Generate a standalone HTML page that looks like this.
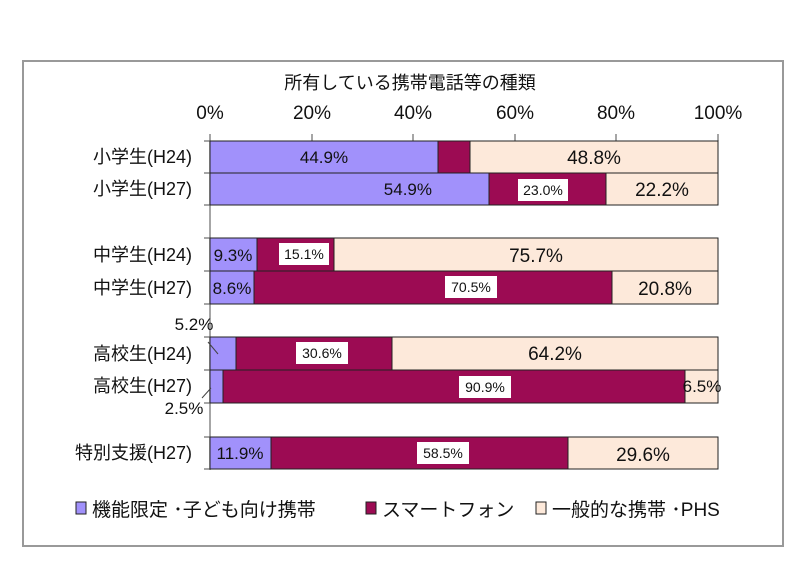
<!DOCTYPE html>
<html><head><meta charset="utf-8"><style>
body{margin:0;background:#fff;}
svg text{font-family:"Liberation Sans","Noto Sans CJK JP",sans-serif;}
</style></head><body>
<svg width="800" height="573" xmlns="http://www.w3.org/2000/svg">
<rect x="23" y="61" width="760" height="485" fill="#fff" stroke="#999" stroke-width="2"/>
<text x="410" y="89" font-size="18" text-anchor="middle" fill="#111">所有している携帯電話等の種類</text>
<g font-size="19" fill="#111" text-anchor="middle">
<text x="210" y="119">0%</text><text x="312" y="119">20%</text><text x="413" y="119">40%</text><text x="515" y="119">60%</text><text x="616" y="119">80%</text><text x="718" y="119">100%</text>
</g>
<g stroke="#888" stroke-width="1.5">
<line x1="210" y1="134" x2="210" y2="470"/>
<line x1="312" y1="134" x2="312" y2="141"/><line x1="413" y1="134" x2="413" y2="141"/><line x1="515" y1="134" x2="515" y2="141"/><line x1="616" y1="134" x2="616" y2="141"/><line x1="718" y1="134" x2="718" y2="141"/>
<line x1="204" y1="141" x2="210" y2="141"/><line x1="204" y1="173" x2="210" y2="173"/><line x1="204" y1="205" x2="210" y2="205"/><line x1="204" y1="238" x2="210" y2="238"/><line x1="204" y1="271" x2="210" y2="271"/><line x1="204" y1="304" x2="210" y2="304"/><line x1="204" y1="337" x2="210" y2="337"/><line x1="204" y1="370" x2="210" y2="370"/><line x1="204" y1="403" x2="210" y2="403"/><line x1="204" y1="437" x2="210" y2="437"/><line x1="204" y1="469" x2="210" y2="469"/>
</g>
<g stroke="#222" stroke-width="1">
<rect x="210" y="141" width="228" height="32" fill="#a191fb"/><rect x="438" y="141" width="32" height="32" fill="#9c0b53"/><rect x="470" y="141" width="248" height="32" fill="#fde9da"/>
<rect x="210" y="173" width="279" height="32" fill="#a191fb"/><rect x="489" y="173" width="117" height="32" fill="#9c0b53"/><rect x="606" y="173" width="112" height="32" fill="#fde9da"/>
<rect x="210" y="238" width="47" height="33" fill="#a191fb"/><rect x="257" y="238" width="77" height="33" fill="#9c0b53"/><rect x="334" y="238" width="384" height="33" fill="#fde9da"/>
<rect x="210" y="271" width="44" height="33" fill="#a191fb"/><rect x="254" y="271" width="358" height="33" fill="#9c0b53"/><rect x="612" y="271" width="106" height="33" fill="#fde9da"/>
<rect x="210" y="337" width="26" height="33" fill="#a191fb"/><rect x="236" y="337" width="156" height="33" fill="#9c0b53"/><rect x="392" y="337" width="326" height="33" fill="#fde9da"/>
<rect x="210" y="370" width="13" height="33" fill="#a191fb"/><rect x="223" y="370" width="462" height="33" fill="#9c0b53"/><rect x="685" y="370" width="33" height="33" fill="#fde9da"/>
<rect x="210" y="437" width="61" height="32" fill="#a191fb"/><rect x="271" y="437" width="297" height="32" fill="#9c0b53"/><rect x="568" y="437" width="150" height="32" fill="#fde9da"/>
</g>
<g fill="#fff">
<rect x="518" y="179" width="50" height="22"/><rect x="279" y="243" width="50" height="22"/><rect x="445" y="276" width="52" height="22"/><rect x="296" y="342" width="52" height="22"/><rect x="459" y="376" width="52" height="22"/><rect x="417" y="442" width="52" height="22"/>
</g>
<g font-size="17" fill="#111" text-anchor="middle">
<text x="324" y="163">44.9%</text><text x="594" y="164" font-size="19">48.8%</text>
<text x="432" y="195" text-anchor="end">54.9%</text><text x="543" y="195" font-size="14">23.0%</text><text x="662" y="196" font-size="19">22.2%</text>
<text x="233" y="261">9.3%</text><text x="304" y="259" font-size="14">15.1%</text><text x="536" y="262" font-size="19">75.7%</text>
<text x="232" y="294">8.6%</text><text x="471" y="292" font-size="14">70.5%</text><text x="665" y="295" font-size="19">20.8%</text>
<text x="322" y="358" font-size="14">30.6%</text><text x="555" y="360" font-size="19">64.2%</text>
<text x="485" y="392" font-size="14">90.9%</text><text x="702" y="392">6.5%</text>
<text x="240" y="459">11.9%</text><text x="443" y="458" font-size="14">58.5%</text><text x="643" y="461" font-size="19">29.6%</text>
<text x="194" y="330">5.2%</text><text x="184" y="414">2.5%</text>
</g>
<g stroke="#444" stroke-width="1"><line x1="208" y1="342" x2="218" y2="354"/><line x1="202" y1="398" x2="211" y2="388"/></g>
<g font-size="18" fill="#111" text-anchor="end">
<text x="192" y="163">小学生(H24)</text><text x="192" y="195">小学生(H27)</text>
<text x="192" y="261">中学生(H24)</text><text x="192" y="294">中学生(H27)</text>
<text x="192" y="360">高校生(H24)</text><text x="192" y="392">高校生(H27)</text>
<text x="192" y="459">特別支援(H27)</text>
</g>
<g stroke="#222" stroke-width="1">
<rect x="76" y="502" width="10" height="12" fill="#a191fb"/><rect x="366" y="502" width="10" height="12" fill="#9c0b53"/><rect x="536" y="502" width="10" height="12" fill="#fde9da"/>
</g>
<g font-size="19" fill="#111">
<text x="92" y="516">機能限定 ･子ども向け携帯</text><text x="382" y="516">スマートフォン</text><text x="552" y="516">一般的な携帯 ･PHS</text>
</g>
</svg>
</body></html>
